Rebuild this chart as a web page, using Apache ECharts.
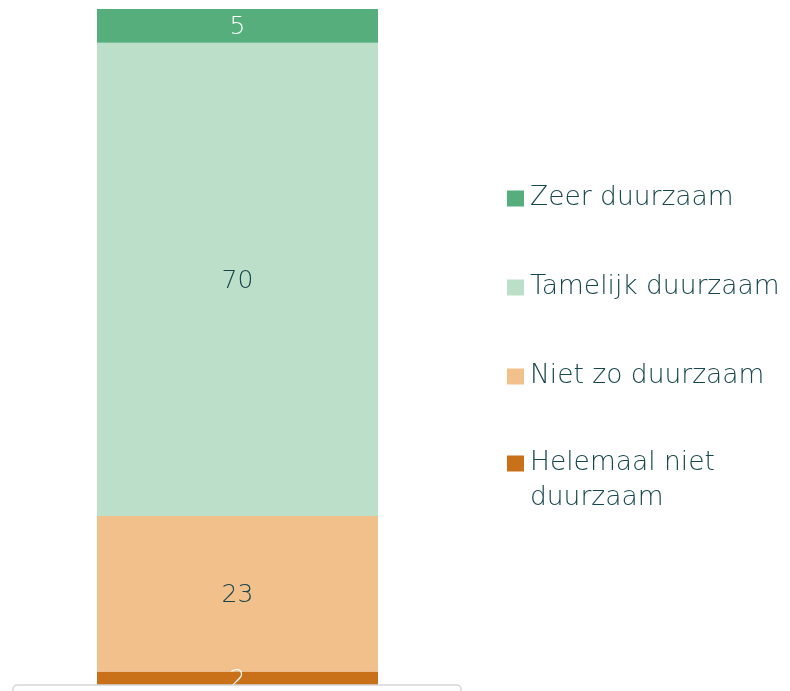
<!DOCTYPE html>
<html>
<head>
<meta charset="utf-8">
<script src="https://cdn.jsdelivr.net/npm/echarts@6/dist/echarts.min.js"></script>
<style>
html,body{margin:0;padding:0;background:#fff;}
#chart{width:790px;height:691px;}
</style>
</head>
<body>
<div id="chart"></div>
<script>
// categorieen en waarden (procent)
var categories = [''];
var seriesNames = ['Zeer duurzaam', 'Tamelijk duurzaam', 'Niet zo duurzaam', 'Helemaal niet duurzaam'];
var zeer = [5];
var tamelijk = [70];
var nietZo = [23];
var helemaalNiet = [2];
var kleuren = ['#55ae7b', '#bcdfc9', '#f2c08b', '#c97118'];
var labelKleur = ['#ffffff', '#17464c', '#17464c', '#ffffff'];

var font = 'DejaVu Sans';
var tekstKleur = '#17464c';

function maakSerie(idx, data){
    return {
        name: seriesNames[idx],
        type: 'bar',
        stack: 'totaal',
        barWidth: '100%',
        itemStyle: {color: kleuren[idx]},
        label: {
            show: true,
            position: 'inside',
            offset: [0, 2],
            color: labelKleur[idx],
            fontFamily: font,
            fontWeight: 200,
            fontSize: 25
        },
        data: data
    };
}

var legendTekst = {
    color: tekstKleur,
    fontFamily: font,
    fontWeight: 200,
    fontSize: 26.5,
    lineHeight: 35,
    padding: [0, 0, 0, 1]
};

var option = {
    animation: false,
    grid: {left: 97, width: 281, top: 9, bottom: 6},
    legend: [{
        orient: 'vertical',
        left: 507,
        top: 181,
        padding: 0,
        itemWidth: 17,
        itemHeight: 16,
        itemGap: 54,
        icon: 'rect',
        data: seriesNames.slice(0, 3),
        textStyle: legendTekst
    }, {
        // laatste item apart: tekst over twee regels, blokje bij de eerste regel
        orient: 'vertical',
        left: 507,
        top: 411,
        padding: 0,
        itemWidth: 17,
        itemHeight: 16,
        icon: 'rect',
        data: seriesNames.slice(3),
        formatter: function(name){
            return '\nHelemaal niet\nduurzaam';
        },
        textStyle: legendTekst
    }],
    xAxis: {
        type: 'category',
        data: categories,
        axisLine: {show: false},
        axisTick: {show: false},
        axisLabel: {show: false}
    },
    yAxis: {
        type: 'value',
        min: 0,
        max: 100,
        show: false
    },
    graphic: [{
        type: 'rect',
        z: 100,
        shape: {x: 13, y: 685, width: 448, height: 30, r: 4},
        style: {fill: 'none', stroke: '#d6d6d6', lineWidth: 1.5}
    }],
    series: [
        maakSerie(3, helemaalNiet),
        maakSerie(2, nietZo),
        maakSerie(1, tamelijk),
        maakSerie(0, zeer)
    ]
};

var myChart = echarts.init(document.getElementById('chart'));
myChart.setOption(option);
</script>
</body>
</html>
